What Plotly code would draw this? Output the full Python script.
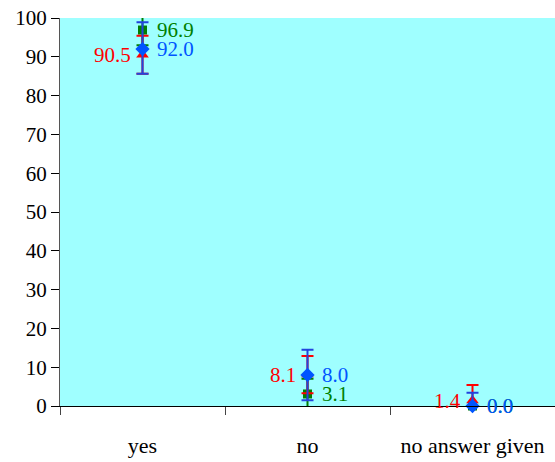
import plotly.graph_objects as go

categories = ["yes", "no", "no answer given"]

red_vals = [90.5, 8.1, 1.4]
red_err_plus = [4.9, 4.8, 4.0]
red_err_minus = [4.9, 4.8, 1.4]

green_vals = [96.9, 3.1, 0.0]
green_err_plus = [3.9, 3.9, 0.0]
green_err_minus = [3.9, 3.9, 0.0]

blue_vals = [92.0, 8.0, 0.0]
blue_err_plus = [6.9, 6.5, 3.4]
blue_err_minus = [6.4, 6.5, 0.0]

y_ticks = [0, 10, 20, 30, 40, 50, 60, 70, 80, 90, 100]

FONT = "Liberation Serif"

fig = go.Figure()

def add(vals, ep, em, color, ecolor, symbol, size, side):
    fig.add_trace(go.Scatter(
        x=categories, y=vals, mode="markers",
        marker=dict(symbol=symbol, size=size, color=color),
        error_y=dict(type="data", symmetric=False, array=ep, arrayminus=em,
                     color=ecolor, thickness=2, width=6),
        cliponaxis=False, showlegend=False,
    ))
    for c, v in zip(categories, vals):
        fig.add_annotation(
            x=c, y=v, text=f"{v:.1f}", showarrow=False,
            xanchor="right" if side == "left" else "left",
            xshift=-10 if side == "left" else 12,
            font=dict(family=FONT, size=21, color=color),
        )

add(green_vals, green_err_plus, green_err_minus, "#007F00", "#007F00", "square", 9, "right")
add(red_vals, red_err_plus, red_err_minus, "#FF0000", "#FF0000", "triangle-up", 11, "left")
add(blue_vals, blue_err_plus, blue_err_minus, "#0055FF", "#2244DD", "diamond", 11, "right")

fig.update_layout(
    width=555, height=462,
    margin=dict(l=60, r=0, t=18, b=56),
    paper_bgcolor="white",
    plot_bgcolor="#9FFFFF",
    font=dict(family=FONT, size=21, color="black"),
    xaxis=dict(
        type="category", range=[-0.5, 2.5],
        showgrid=False, zeroline=False,
        showline=True, linecolor="black", linewidth=1,
        ticks="outside", ticklen=8, tickcolor="#444", tickson="boundaries",
        tickfont=dict(family=FONT, size=22, color="black"),
        ticklabelstandoff=20,
    ),
    yaxis=dict(
        range=[0, 100], tickvals=y_ticks,
        showgrid=False, zeroline=False,
        showline=True, linecolor="#555", linewidth=1,
        ticks="outside", ticklen=8, tickcolor="black",
        tickfont=dict(family=FONT, size=21, color="black"),
    ),
)

fig.write_html("out.html")
